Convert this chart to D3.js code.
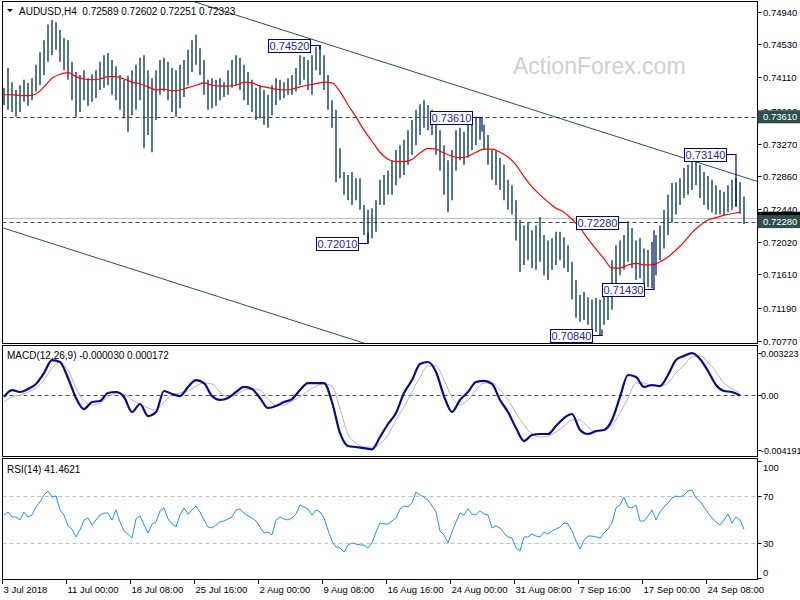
<!DOCTYPE html>
<html><head><meta charset="utf-8">
<script src="https://cdn.jsdelivr.net/npm/d3@7"></script>
<style>
html,body{margin:0;padding:0;background:#fff;}
svg{display:block;font-family:"Liberation Sans",Arial,sans-serif;}
</style></head><body>
<svg id="c" width="800" height="600"></svg>
<script>
// ---------- DATA (one entry per 2 H4 bars) ----------
const highs = [
0.7398,0.7423,0.7405,0.7395,0.7401,0.7408,0.7404,0.7410,0.7427,0.7443,
0.7458,0.7478,0.7484,0.7481,0.7471,0.7461,0.7458,0.7431,0.7418,0.7414,
0.7420,0.7410,0.7415,0.7420,0.7431,0.7439,0.7442,0.7433,0.7425,0.7414,
0.7408,0.7413,0.7420,0.7427,0.7436,0.7439,0.7420,0.7410,0.7420,0.7433,
0.7436,0.7431,0.7423,0.7420,0.7427,0.7433,0.7446,0.7458,0.7465,0.7448,
0.7433,0.7408,0.7410,0.7408,0.7410,0.7405,0.7420,0.7433,0.7439,0.7436,
0.7427,0.7418,0.7408,0.7398,0.7401,0.7395,0.7389,0.7401,0.7410,0.7408,
0.7405,0.7410,0.7414,0.7423,0.7439,0.7437,0.7433,0.7439,0.7450,0.7452,
0.7439,0.7414,0.7382,0.7370,0.7321,0.7291,0.7287,0.7291,0.7283,0.7283,
0.7249,0.7243,0.7245,0.7255,0.7281,0.7287,0.7293,0.7306,0.7319,0.7325,
0.7332,0.7344,0.7357,0.7370,0.7377,0.7382,0.7376,0.7370,0.7361,0.7344,
0.7325,0.7306,0.7319,0.7344,0.7347,0.7342,0.7351,0.7357,0.7361,0.7361,
0.7351,0.7338,0.7319,0.7319,0.7309,0.7300,0.7281,0.7274,0.7255,0.7230,
0.7223,0.7227,0.7217,0.7223,0.7234,0.7211,0.7204,0.7207,0.7215,0.7215,
0.7208,0.7198,0.7177,0.7154,0.7135,0.7139,0.7132,0.7129,0.7131,0.7129,
0.7141,0.7148,0.7179,0.7198,0.7204,0.7211,0.7228,0.7220,0.7204,0.7207,
0.7194,0.7192,0.7202,0.7211,0.7223,0.7243,0.7262,0.7277,0.7278,0.7283,
0.7296,0.7300,0.7309,0.7314,0.7300,0.7291,0.7286,0.7281,0.7274,0.7268,
0.7266,0.7274,0.7281,0.7283,0.7278,0.7260];
const lows = [
0.7376,0.7370,0.7367,0.7361,0.7367,0.7380,0.7375,0.7382,0.7393,0.7401,
0.7414,0.7431,0.7439,0.7446,0.7431,0.7420,0.7408,0.7382,0.7361,0.7367,
0.7382,0.7375,0.7380,0.7385,0.7395,0.7398,0.7401,0.7389,0.7382,0.7370,
0.7359,0.7342,0.7363,0.7370,0.7382,0.7321,0.7338,0.7316,0.7357,0.7389,
0.7393,0.7382,0.7367,0.7361,0.7372,0.7386,0.7401,0.7418,0.7427,0.7414,
0.7389,0.7370,0.7372,0.7375,0.7382,0.7386,0.7389,0.7398,0.7401,0.7395,
0.7382,0.7376,0.7367,0.7357,0.7359,0.7351,0.7347,0.7363,0.7376,0.7382,
0.7385,0.7389,0.7389,0.7393,0.7401,0.7408,0.7395,0.7389,0.7420,0.7414,
0.7395,0.7370,0.7347,0.7278,0.7283,0.7262,0.7255,0.7249,0.7255,0.7243,
0.7211,0.7201,0.7207,0.7215,0.7249,0.7249,0.7262,0.7262,0.7274,0.7283,
0.7287,0.7300,0.7313,0.7325,0.7338,0.7347,0.7344,0.7338,0.7313,0.7293,
0.7262,0.7240,0.7255,0.7293,0.7306,0.7300,0.7309,0.7319,0.7325,0.7332,
0.7319,0.7300,0.7281,0.7274,0.7268,0.7255,0.7243,0.7237,0.7204,0.7164,
0.7173,0.7179,0.7169,0.7167,0.7177,0.7160,0.7154,0.7167,0.7173,0.7179,
0.7169,0.7164,0.7129,0.7106,0.7101,0.7103,0.7097,0.7090,0.7088,0.7084,
0.7097,0.7103,0.7116,0.7141,0.7160,0.7167,0.7177,0.7169,0.7154,0.7156,
0.7148,0.7145,0.7143,0.7160,0.7179,0.7194,0.7211,0.7227,0.7237,0.7249,
0.7258,0.7262,0.7268,0.7274,0.7258,0.7249,0.7243,0.7240,0.7237,0.7237,
0.7236,0.7240,0.7243,0.7247,0.7238,0.7225];
// moving average, one value every 4 bars
const maValues = [
0.7389,0.7389,0.7388,0.7388,0.7390,0.7399,0.7410,0.7415,0.7417,0.7412,
0.7409,0.7408,0.7409,0.7412,0.7412,0.7409,0.7405,0.7403,0.7399,0.7395,
0.7396,0.7394,0.7395,0.7398,0.7401,0.7404,0.7401,0.7400,0.7400,0.7401,
0.7405,0.7404,0.7400,0.7398,0.7396,0.7395,0.7396,0.7399,0.7401,0.7403,
0.7405,0.7404,0.7393,0.7376,0.7361,0.7344,0.7330,0.7316,0.7307,0.7304,
0.7304,0.7307,0.7315,0.7321,0.7320,0.7315,0.7311,0.7309,0.7311,0.7316,
0.7320,0.7320,0.7316,0.7310,0.7300,0.7285,0.7272,0.7262,0.7253,0.7245,
0.7240,0.7231,0.7220,0.7206,0.7193,0.7181,0.7169,0.7169,0.7173,0.7175,
0.7173,0.7173,0.7177,0.7183,0.7192,0.7202,0.7214,0.7223,0.7230,0.7233,
0.7236,0.7238,0.7240];
// MACD main & signal, one value every 4 bars
const macdMain = [
-0.00015,0.00038,0.00023,0.00046,0.00085,0.00169,0.00269,0.00254,0.00131,-0.00023,
-0.00108,-0.00054,-0.00046,0.00015,0.00023,-0.00015,-0.00131,-0.00069,-0.00162,-0.00131,
0.00031,0.00008,-0.00008,0.00062,0.00115,0.00092,-0.00008,-0.00038,-0.00023,0.00023,
0.00062,0.00046,-0.00023,-0.00100,-0.00085,-0.00054,-0.00031,0.00038,0.00092,0.00092,
0.00092,-0.00054,-0.00292,-0.00392,-0.00400,-0.00408,-0.00418,-0.00323,-0.00223,-0.00138,
0.00015,0.00115,0.00238,0.00254,0.00177,-0.00008,-0.00131,-0.00038,0.00023,0.00100,
0.00108,0.00085,-0.00038,-0.00131,-0.00254,-0.00354,-0.00308,-0.00300,-0.00300,-0.00238,
-0.00177,-0.00146,-0.00269,-0.00300,-0.00277,-0.00269,-0.00192,-0.00015,0.00154,0.00138,
0.00062,0.00077,0.00069,0.00154,0.00269,0.00300,0.00322,0.00277,0.00185,0.00077,
0.00031,0.00023,-0.00003];
const macdSignal = [
-0.00054,-0.00015,0,0.00023,0.00054,0.00115,0.00208,0.00254,0.00192,0.00054,
-0.00046,-0.00077,-0.00062,-0.00015,0.00015,0.00008,-0.00038,-0.00069,-0.00100,-0.00115,
-0.00054,0,0.00015,0.00031,0.00069,0.00092,0.00085,0.00023,-0.00015,0,
0.00038,0.00046,0.00038,-0.00031,-0.00077,-0.00077,-0.00046,-0.00015,0.00031,0.00069,
0.00085,0.00069,-0.00108,-0.00300,-0.00369,-0.00400,-0.00400,-0.00377,-0.00308,-0.00192,
-0.00092,0.00023,0.00138,0.00223,0.00223,0.00115,-0.00015,-0.00077,-0.00038,0.00038,
0.00092,0.00092,0.00038,-0.00038,-0.00138,-0.00231,-0.00300,-0.00323,-0.00315,-0.00285,
-0.00238,-0.00192,-0.00192,-0.00246,-0.00285,-0.00269,-0.00231,-0.00138,-0.00023,0.00092,
0.00092,0.00069,0.00069,0.00092,0.00169,0.00231,0.00292,0.00300,0.00254,0.00177,
0.00092,0.00046,0.00017];
// RSI(14), one value every 2 bars
const rsiValues = [
53.6,56.2,51.9,51.9,49.4,56.2,51.9,53.6,60.4,64.7,
70.6,74.0,68.9,69.8,57.9,53.6,44.3,41.7,34.9,40.8,
49.4,51.1,45.1,49.4,53.6,55.3,55.3,49.4,57.9,47.7,
40.0,37.4,34.0,50.2,52.8,45.1,38.3,46.0,47.7,57.0,
59.6,50.2,46.0,43.4,53.6,59.6,54.5,57.9,61.3,56.2,
49.4,43.4,42.6,45.1,47.7,48.5,50.2,51.9,57.9,58.7,
55.3,52.8,51.1,48.5,43.4,38.3,39.1,36.6,49.4,51.9,
50.2,49.4,51.1,54.5,62.1,60.4,58.7,53.6,57.9,56.2,
51.1,40.8,31.5,26.4,25.5,22.1,28.1,29.8,28.9,28.1,
28.1,25.5,29.8,39.1,46.8,46.0,46.0,48.5,51.1,58.7,
61.3,60.4,63.8,73.2,70.6,68.9,66.4,61.3,56.2,40.0,
36.6,29.8,39.1,47.7,55.3,53.6,58.7,54.5,53.6,57.0,
54.5,53.6,42.6,44.3,42.6,38.3,34.9,34.0,25.5,23.0,
34.9,34.9,37.4,35.7,34.9,39.1,37.4,40.0,41.7,43.4,
46.8,46.0,40.0,31.5,24.7,32.3,35.7,35.7,34.9,34.0,
38.3,41.7,46.8,59.6,62.1,68.9,60.4,59.6,62.1,48.5,
48.5,52.8,57.9,49.4,56.2,60.4,63.8,68.1,69.8,68.9,
70.6,74.0,74.9,68.1,65.5,60.4,55.3,51.1,47.7,45.1,
49.4,54.5,46.8,51.9,49.4,41.5];
const priceTicks = [0.74940,0.74530,0.74110,0.73690,0.73270,0.72860,0.72440,0.72020,0.71610,0.71190,0.70770];
const macdTicks = [0.003223, 0, -0.004191];
const macdTickLabels = ["0.003223","0.00","-0.004191"];
const rsiTicks = [100, 70, 30, 0];
const rsiLevels = [70, 30];
const timeLabels = ["3 Jul 2018","11 Jul 00:00","18 Jul 08:00","25 Jul 16:00","2 Aug 00:00","9 Aug 08:00","16 Aug 16:00","24 Aug 00:00","31 Aug 08:00","7 Sep 16:00","17 Sep 00:00","24 Sep 08:00"];
const timeLabelIdx = [0,16,32,48,64,80,96,112,128,144,160,176];
const hLevels = [0.7361, 0.7228];
const currentPrice = 0.72323;
const noteValues = [0.7452, 0.7361, 0.7201, 0.7228, 0.7143, 0.7084, 0.7314];
const noteIdx    = [79, 119.5, 91, 156, 162.5, 149.5, 183];
const noteEnds   = [0.7446, 0.7342, 0.7214, 0.7228, 0.7217, 0.7091, 0.7247];
const upperTrend = [[48.25, 0.75067], [185, 0.72852]];
const lowerTrend = [[0, 0.72204], [90, 0.70746]];
const titleText = "AUDUSD,H4  0.72589 0.72602 0.72251 0.72323";
const macdTitle = "MACD(12,26,9) -0.000030 0.000172";
const rsiTitle = "RSI(14) 41.4621";

// ---------- LAYOUT ----------
const svg = d3.select('#c');
const LEFT = 2.5, RIGHT = 757.5;
const pMain = [1.5, 343.5], pMacd = [345.5, 456.5], pRsi = [458.5, 579.5];
const x = d3.scaleLinear().domain([0, 186]).range([2, 746]);
const yP = d3.scaleLinear().domain([0.70770, 0.74940]).range([340.6, 12]);
const yM = d3.scaleLinear().domain([-0.004191, 0.003223]).range([449.5, 353.1]);
const yR = d3.scaleLinear().domain([0, 100]).range([578, 460.5]);
const BAR = '#1b4a60', FONT = '10px', AXF = '9.5px';

const defs = svg.append('defs');
[['cm', pMain], ['cd', pMacd], ['cr', pRsi]].forEach(([id, p]) => {
  defs.append('clipPath').attr('id', id).append('rect')
    .attr('x', LEFT).attr('y', p[0]).attr('width', RIGHT - LEFT).attr('height', p[1] - p[0]);
});

// watermark
svg.append('text').attr('x', 513).attr('y', 74).attr('font-size', '23px')
  .attr('fill', '#cfcfcf').text('ActionForex.com');

// ---------- MAIN PANE ----------
const gm = svg.append('g').attr('clip-path', 'url(#cm)');
hLevels.forEach(v => {
  gm.append('line').attr('x1', LEFT).attr('x2', RIGHT).attr('y1', Math.round(yP(v)) + 0.5).attr('y2', Math.round(yP(v)) + 0.5)
    .attr('stroke', '#2f4f4f').attr('stroke-dasharray', '4,3');
});
gm.append('line').attr('x1', LEFT).attr('x2', RIGHT)
  .attr('y1', Math.round(yP(currentPrice)) + 0.5).attr('y2', Math.round(yP(currentPrice)) + 0.5)
  .attr('stroke', '#c0c0c0');
function trend(t) {
  const s = (t[1][1] - t[0][1]) / (t[1][0] - t[0][0]);
  const a = -2, b = 190;
  gm.append('line').attr('x1', x(a)).attr('y1', yP(t[0][1] + s * (a - t[0][0])))
    .attr('x2', x(b)).attr('y2', yP(t[0][1] + s * (b - t[0][0])))
    .attr('stroke', '#2f4f4f').attr('stroke-width', 1);
}
trend(upperTrend); trend(lowerTrend);

gm.selectAll('line.bar').data(highs).enter().append('line').attr('class', 'bar')
  .attr('x1', (d, i) => x(i + 0.5)).attr('x2', (d, i) => x(i + 0.5))
  .attr('y1', d => yP(d)).attr('y2', (d, i) => yP(lows[i]))
  .attr('stroke', BAR).attr('stroke-width', 1.5);

gm.append('path').datum(maValues)
  .attr('d', d3.line().x((d, j) => x(2 * j + 0.5)).y(d => yP(d)).curve(d3.curveMonotoneX))
  .attr('fill', 'none').attr('stroke', '#ff0000').attr('stroke-width', 1.2);

// price notes
noteValues.forEach((v, k) => {
  const ax = x(noteIdx[k] + 0.5), yy = Math.round(yP(v)) + 0.5;
  const bw = 42, bh = 13, br = ax - 10;
  gm.append('polyline')
    .attr('points', [[br, yy], [ax, yy], [ax, yP(noteEnds[k])]].map(p => p.join(',')).join(' '))
    .attr('fill', 'none').attr('stroke', '#000080').attr('stroke-width', 1.2);
  gm.append('rect').attr('x', Math.round(br - bw) + 0.5).attr('y', Math.round(yy - bh / 2) + 0.5)
    .attr('width', bw).attr('height', bh).attr('fill', '#fff').attr('stroke', '#000080');
  gm.append('text').attr('x', br - bw / 2 + 0.5).attr('y', yy + 4.5).attr('text-anchor', 'middle')
    .attr('font-size', '11px').attr('fill', '#2323b5').text(v.toFixed(5));
});

// title
svg.append('path').attr('d', 'M7,9 L13,9 L10,12 Z').attr('fill', '#000');
svg.append('text').attr('x', 19).attr('y', 15).attr('font-size', FONT).attr('fill', '#000')
  .attr('xml:space', 'preserve').style('white-space', 'pre').text(titleText);

// ---------- MACD PANE ----------
const gd = svg.append('g').attr('clip-path', 'url(#cd)');
gd.append('line').attr('x1', LEFT).attr('x2', RIGHT).attr('y1', Math.round(yM(0)) + 0.5).attr('y2', Math.round(yM(0)) + 0.5)
  .attr('stroke', '#555').attr('stroke-dasharray', '4,3');
gd.append('path').datum(macdSignal)
  .attr('d', d3.line().x((d, j) => x(2 * j + 0.5)).y(d => yM(d)).curve(d3.curveMonotoneX))
  .attr('fill', 'none').attr('stroke', '#b4b4b4').attr('stroke-width', 1);
gd.append('path').datum(macdMain)
  .attr('d', d3.line().x((d, j) => x(2 * j + 0.5)).y(d => yM(d)).curve(d3.curveMonotoneX))
  .attr('fill', 'none').attr('stroke', '#0a0a8c').attr('stroke-width', 2.2);
svg.append('text').attr('x', 7).attr('y', 359).attr('font-size', FONT).text(macdTitle);

// ---------- RSI PANE ----------
const gr = svg.append('g').attr('clip-path', 'url(#cr)');
rsiLevels.forEach(v => {
  gr.append('line').attr('x1', LEFT).attr('x2', RIGHT).attr('y1', Math.round(yR(v)) + 0.5).attr('y2', Math.round(yR(v)) + 0.5)
    .attr('stroke', '#c0c0c0').attr('stroke-dasharray', '4,3');
});
gr.append('path').datum(rsiValues)
  .attr('d', d3.line().x((d, i) => x(i + 0.5)).y(d => yR(d)))
  .attr('fill', 'none').attr('stroke', '#1e90ff').attr('stroke-width', 1);
svg.append('text').attr('x', 7).attr('y', 473).attr('font-size', FONT).text(rsiTitle);

// ---------- FRAMES ----------
[pMain, pMacd, pRsi].forEach(p => {
  svg.append('rect').attr('x', LEFT).attr('y', p[0]).attr('width', RIGHT - LEFT).attr('height', p[1] - p[0])
    .attr('fill', 'none').attr('stroke', '#000');
});

// ---------- RIGHT AXES ----------
const ax = svg.append('g').attr('font-size', AXF).attr('fill', '#000');
priceTicks.forEach(v => {
  const yy = Math.round(yP(v)) + 0.5;
  ax.append('line').attr('x1', RIGHT).attr('x2', RIGHT + 4).attr('y1', yy).attr('y2', yy).attr('stroke', '#000');
  ax.append('text').attr('x', 763).attr('y', yy + 3.5).text(v.toFixed(5));
});
// current price marker and level highlights
function axisBox(v, fill) {
  const yy = yP(v);
  ax.append('rect').attr('x', RIGHT).attr('y', yy - 6.5).attr('width', 800 - RIGHT).attr('height', 13).attr('fill', fill);
  ax.append('text').attr('x', 763).attr('y', yy + 3.5).attr('fill', '#fff').text(v.toFixed(5));
}
axisBox(currentPrice, '#000');
hLevels.forEach(v => axisBox(v, '#2f4f4f'));

macdTicks.forEach((v, k) => {
  const yy = Math.round(yM(v)) + 0.5;
  ax.append('line').attr('x1', RIGHT).attr('x2', RIGHT + 4).attr('y1', yy).attr('y2', yy).attr('stroke', '#000');
  ax.append('text').attr('x', 761).attr('y', yy + 3.5)
    .attr('font-size', '9px').text(macdTickLabels[k]);
});
rsiTicks.forEach(v => {
  const yy = Math.round(yR(v)) + 0.5;
  ax.append('line').attr('x1', RIGHT).attr('x2', RIGHT + 4).attr('y1', yy).attr('y2', yy).attr('stroke', '#000');
  const ty = v === 100 ? yy + 9 : (v === 0 ? yy - 3 : yy + 3.5);
  ax.append('text').attr('x', 763).attr('y', ty).text(String(v));
});

// ---------- TIME AXIS ----------
timeLabelIdx.forEach((idx, k) => {
  const xx = Math.round(x(idx)) + 0.5;
  ax.append('line').attr('x1', xx).attr('x2', xx).attr('y1', 580).attr('y2', 584).attr('stroke', '#000');
  ax.append('text').attr('x', xx + 1).attr('y', 593).attr('font-size', '9.5px').text(timeLabels[k]);
});
</script>
</body></html>
